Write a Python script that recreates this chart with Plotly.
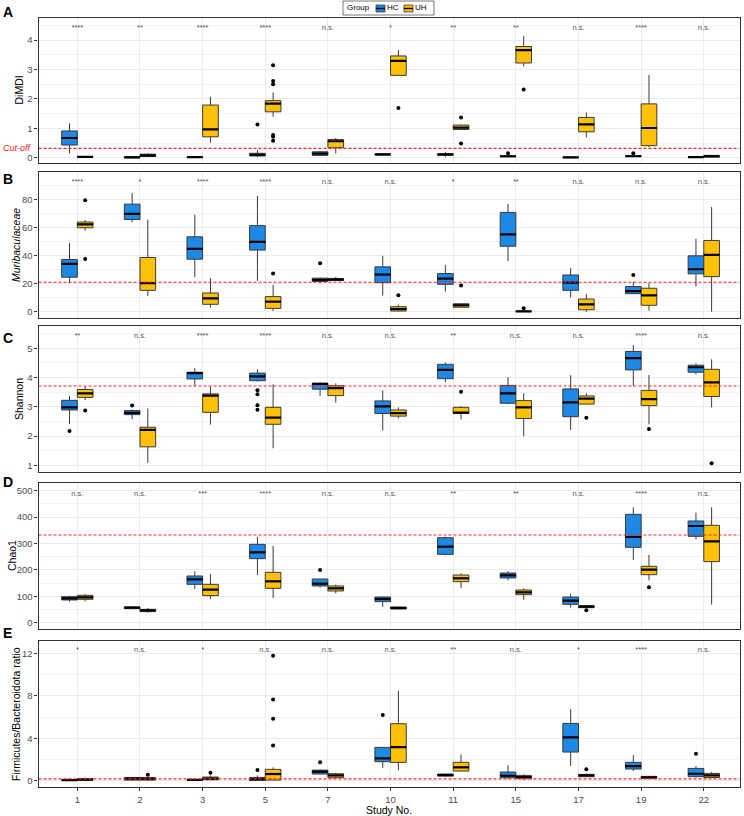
import plotly.graph_objects as go

W, H = 744, 816

studies = ["1", "2", "3", "5", "7", "10", "11", "15", "17", "19", "22"]
groups = ["HC", "UH"]
group_colors = {"HC": "#1E88E5", "UH": "#FFC107"}

# each row: [lower whisker, q1, median, q3, upper whisker] per study
A_HC = [[0.15, 0.43, 0.67, 0.91, 1.17], [0.0, 0.0, 0.01, 0.03, 0.06], [0.01, 0.01, 0.02, 0.03, 0.04],
        [0.02, 0.06, 0.10, 0.15, 0.26], [0.05, 0.08, 0.14, 0.20, 0.23], [0.07, 0.09, 0.11, 0.13, 0.14],
        [0.03, 0.08, 0.11, 0.13, 0.20], [0.02, 0.03, 0.05, 0.06, 0.08], [0.0, 0.0, 0.01, 0.02, 0.03],
        [0.02, 0.04, 0.05, 0.07, 0.09], [0.0, 0.01, 0.02, 0.03, 0.04]]
A_UH = [[0.01, 0.02, 0.03, 0.04, 0.05], [0.03, 0.04, 0.08, 0.12, 0.15], [0.51, 0.71, 0.96, 1.79, 2.07],
        [1.39, 1.56, 1.84, 1.94, 2.22], [0.15, 0.34, 0.56, 0.62, 0.67], [2.8, 2.8, 3.29, 3.46, 3.66],
        [0.95, 0.96, 1.02, 1.11, 1.13], [3.1, 3.22, 3.66, 3.78, 4.14], [0.69, 0.88, 1.13, 1.37, 1.54],
        [0.36, 0.41, 1.01, 1.83, 2.81], [0.01, 0.02, 0.05, 0.08, 0.09]]
A_HC_out = {"5": [1.13], "15": [0.15], "19": [0.15]}
A_UH_out = {"5": [3.14, 2.61, 2.5, 0.77, 0.71, 0.58], "10": [1.69], "11": [1.37, 0.48], "15": [2.32]}
A_sig = ["****", "**", "****", "****", "n.s.", "*", "**", "**", "n.s.", "****", "n.s."]

B_HC = [[20.4, 24.7, 34.2, 37.4, 49.3], [64, 66, 70, 77, 85], [24.7, 37.6, 45, 53.6, 69.5],
        [22, 44.1, 50, 61.6, 82.9], [20.1, 21.6, 22.8, 24, 24.5], [11.5, 20.8, 26.6, 32.1, 40],
        [14.4, 19.6, 23.7, 27.3, 33.5], [36.2, 46.9, 55.3, 71.1, 77.1], [10.1, 15.3, 20.8, 26.3, 31.1],
        [12.7, 12.9, 14.8, 18, 21.6], [18, 27.1, 30.4, 40, 52.2]]
B_UH = [[58, 60.1, 62.5, 64.2, 65.6], [11.3, 15.3, 20.4, 38.8, 65.9], [2.9, 5.3, 9.6, 13.4, 24],
        [0.5, 2.4, 7.2, 10.8, 19.2], [22, 22.3, 23, 23.8, 24.9], [0.3, 0.5, 1.9, 3.6, 5.0],
        [2.9, 3.2, 4.6, 5.7, 5.9], [0, 0.1, 0.2, 0.4, 0.6], [0, 1.4, 5.3, 9.1, 12.5],
        [0.7, 4.6, 11.7, 16.8, 20.4], [0, 25.1, 40.7, 51, 75]]
B_HC_out = {"7": [34.7], "19": [26.3]}
B_UH_out = {"1": [79.8, 37.8], "5": [27.3], "10": [11.7], "11": [18.7], "15": [2.4]}
B_sig = ["****", "*", "****", "****", "n.s.", "n.s.", "*", "**", "n.s.", "n.s.", "n.s."]

C_HC = [[2.41, 2.89, 2.98, 3.22, 3.37], [2.57, 2.73, 2.79, 2.87, 2.9], [3.71, 3.95, 4.15, 4.18, 4.32],
        [3.86, 3.89, 4.04, 4.15, 4.28], [3.37, 3.6, 3.78, 3.8, 3.84], [2.19, 2.77, 3.01, 3.2, 3.56],
        [3.84, 3.96, 4.26, 4.45, 4.51], [3.09, 3.12, 3.46, 3.73, 4.01], [2.21, 2.66, 3.15, 3.61, 4.08],
        [3.71, 4.26, 4.66, 4.89, 5.11], [4.11, 4.18, 4.35, 4.42, 4.48]]
C_UH = [[3.23, 3.32, 3.46, 3.59, 3.69], [1.09, 1.63, 2.21, 2.3, 2.94], [2.39, 2.81, 3.38, 3.44, 3.69],
        [1.58, 2.4, 2.63, 2.98, 3.77], [3.14, 3.38, 3.64, 3.72, 3.8], [2.6, 2.68, 2.78, 2.89, 2.98],
        [2.57, 2.77, 2.8, 2.98, 3.03], [1.99, 2.6, 2.98, 3.21, 3.46], [3.09, 3.09, 3.28, 3.37, 3.46],
        [2.4, 3.04, 3.26, 3.56, 4.09], [2.98, 3.35, 3.83, 4.28, 4.62]]
C_HC_out = {"1": [2.17], "2": [3.04], "5": [3.56, 3.43, 3.05, 2.9]}
C_UH_out = {"1": [2.87], "11": [3.51], "17": [2.62], "19": [2.24], "22": [1.07]}
C_sig = ["**", "n.s.", "****", "****", "n.s.", "n.s.", "**", "n.s.", "n.s.", "****", "n.s."]

D_HC = [[79.5, 85.9, 92.2, 98.5, 102], [52, 53, 56.8, 59.3, 61], [127.5, 145.2, 164.1, 176.8, 194.4],
        [180.5, 242.4, 266.4, 296.7, 324.5], [132.6, 138.9, 147.7, 165.4, 165.4], [59.3, 79.5, 89.6, 97.2, 99],
        [255, 258.8, 287.9, 322, 325.8], [160.3, 169.2, 179.3, 188.1, 195.7], [56.8, 69.4, 83.3, 97.2, 108.6],
        [237.4, 285.3, 324.5, 410.3, 436.9], [315.7, 327, 366.2, 385.1, 416.7]]
D_UH = [[80.8, 88.4, 96, 103.5, 108.6], [37.9, 41.7, 46.7, 50.5, 55.6], [89.6, 102.3, 125, 145.2, 184.3],
        [93.4, 130, 156.6, 190.7, 290.4], [111, 120, 130, 138.9, 144], [50, 51.8, 55.6, 59.3, 60],
        [131.3, 155.3, 168, 180.5, 186.9], [87.1, 106, 114.9, 123.7, 130], [55, 56.8, 60.6, 64.4, 65],
        [160.3, 181.8, 200.8, 213.4, 256.3], [68.2, 231.1, 308.1, 368.7, 436.9]]
D_HC_out = {"7": [199.5]}
D_UH_out = {"17": [46.7], "19": [133.8]}
D_sig = ["n.s.", "n.s.", "***", "****", "n.s.", "n.s.", "**", "**", "n.s.", "****", "n.s."]

E_HC = [[0.01, 0.03, 0.05, 0.08, 0.1], [0.04, 0.06, 0.2, 0.31, 0.35], [0.04, 0.06, 0.08, 0.11, 0.13],
        [0.03, 0.03, 0.16, 0.31, 0.5], [0.6, 0.63, 0.85, 1.0, 1.05], [1.19, 1.79, 2.1, 3.14, 3.14],
        [0.4, 0.44, 0.53, 0.63, 0.65], [0.19, 0.28, 0.47, 0.82, 1.45], [1.41, 2.7, 4.08, 5.4, 6.75],
        [0.91, 1.1, 1.38, 1.73, 2.42], [0.31, 0.38, 0.66, 1.16, 1.38]]
E_UH = [[0.03, 0.06, 0.1, 0.19, 0.31], [0.04, 0.06, 0.18, 0.31, 0.35], [0.06, 0.09, 0.2, 0.35, 0.5],
        [0.03, 0.06, 0.63, 1.07, 1.26], [0.25, 0.28, 0.5, 0.66, 0.75], [1.0, 1.73, 3.17, 5.37, 8.45],
        [0.85, 0.91, 1.26, 1.73, 2.48], [0.06, 0.19, 0.35, 0.5, 0.6], [0.35, 0.38, 0.5, 0.6, 0.65],
        [0.2, 0.22, 0.31, 0.41, 0.45], [0.28, 0.31, 0.5, 0.69, 0.82]]
E_HC_out = {"5": [1.0], "7": [1.73], "10": [6.19], "22": [2.54]}
E_UH_out = {"2": [0.57], "3": [0.75], "5": [3.33, 5.84, 7.66, 11.78], "17": [1.07]}
E_sig = ["*", "n.s.", "*", "n.s.", "n.s.", "n.s.", "**", "n.s.", "*", "****", "n.s."]

cutoffs = [0.32, 21.1, 3.71, 332, 0.17]
y_titles = ["DiMDI", "<i>Muribaculaceae</i>", "Shannon", "Chao1", "Firmicutes/Bacteroidota ratio"]
panel_letters = ["A", "B", "C", "D", "E"]

panels = [
    dict(HC=A_HC, UH=A_UH, HC_out=A_HC_out, UH_out=A_UH_out, sig=A_sig,
         yrange=[-0.18, 4.75], ticks=[0, 1, 2, 3, 4], minor=[0.5, 1.5, 2.5, 3.5, 4.5], sig_y=4.39,
         px=(18, 163), letter_y=12, title_x=19),
    dict(HC=B_HC, UH=B_UH, HC_out=B_HC_out, UH_out=B_UH_out, sig=B_sig,
         yrange=[-4.5, 100.0], ticks=[0, 20, 40, 60, 80], minor=[10, 30, 50, 70, 90], sig_y=92.8,
         px=(172, 318), letter_y=179, title_x=16),
    dict(HC=C_HC, UH=C_UH, HC_out=C_HC_out, UH_out=C_UH_out, sig=C_sig,
         yrange=[0.77, 5.76], ticks=[1, 2, 3, 4, 5], minor=[1.5, 2.5, 3.5, 4.5, 5.5], sig_y=5.42,
         px=(326, 472), letter_y=338, title_x=19),
    dict(HC=D_HC, UH=D_UH, HC_out=D_HC_out, UH_out=D_UH_out, sig=D_sig,
         yrange=[-24, 529], ticks=[0, 100, 200, 300, 400, 500], minor=[50, 150, 250, 350, 450], sig_y=487.5,
         px=(483, 629), letter_y=482, title_x=12),
    dict(HC=E_HC, UH=E_UH, HC_out=E_HC_out, UH_out=E_UH_out, sig=E_sig,
         yrange=[-0.59, 13.16], ticks=[0, 4, 8, 12], minor=[2, 6, 10], sig_y=12.3,
         px=(641, 787), letter_y=633, title_x=16),
]

FONT = "Liberation Sans, Arial, sans-serif"
dodge = {"HC": -0.125, "UH": 0.125}
box_w = 0.25
x_left, x_right = 38.5, 739.5

fig = go.Figure()
layout = dict(width=W, height=H, margin=dict(l=0, r=0, t=0, b=0),
              paper_bgcolor="white", plot_bgcolor="white", boxmode="overlay", showlegend=False,
              template="none", font=dict(family=FONT), annotations=[], shapes=[])

for k, p in enumerate(panels):
    n = k + 1
    xa = "x" if n == 1 else f"x{n}"
    ya = "y" if n == 1 else f"y{n}"
    for g in groups:
        stats = p[g]
        xs = [i + dodge[g] for i in range(len(studies))]
        fig.add_trace(go.Box(
            x=xs, lowerfence=[s[0] for s in stats], q1=[s[1] for s in stats],
            median=[s[2] for s in stats], q3=[s[3] for s in stats],
            upperfence=[s[4] for s in stats], width=box_w, whiskerwidth=0,
            fillcolor=group_colors[g], line=dict(color="#3a3a3a", width=1),
            boxpoints=False, name=g, legendgroup=g,
            xaxis=xa, yaxis=ya, hoverinfo="skip"))
        # thicker median lines
        mx, my = [], []
        for i, s in enumerate(stats):
            mx += [i + dodge[g] - box_w / 2, i + dodge[g] + box_w / 2, None]
            my += [s[2], s[2], None]
        fig.add_trace(go.Scatter(x=mx, y=my, mode="lines", line=dict(color="black", width=2.2),
                                 xaxis=xa, yaxis=ya, hoverinfo="skip"))
        # outliers
        ox, oy = [], []
        for st, vals in p[g + "_out"].items():
            i = studies.index(st)
            for v in vals:
                ox.append(i + dodge[g])
                oy.append(v)
        fig.add_trace(go.Scatter(x=ox, y=oy, mode="markers", marker=dict(color="black", size=4),
                                 xaxis=xa, yaxis=ya, hoverinfo="skip"))
    # cut-off line
    fig.add_trace(go.Scatter(x=[-0.62, 10.57], y=[cutoffs[k]] * 2, mode="lines",
                             line=dict(color="#FF2020", width=1.2, dash="3px,2px"),
                             xaxis=xa, yaxis=ya, hoverinfo="skip"))
    # significance labels
    fig.add_trace(go.Scatter(x=list(range(len(studies))), y=[p["sig_y"]] * len(studies), text=p["sig"],
                             mode="text", textfont=dict(size=7.5, color="#555555", family=FONT),
                             xaxis=xa, yaxis=ya, hoverinfo="skip"))

    top, bot = p["px"]
    last = (n == len(panels))
    layout["xaxis" if n == 1 else f"xaxis{n}"] = dict(
        domain=[x_left / W, x_right / W], range=[-0.62, 10.57], anchor=ya,
        tickvals=list(range(len(studies))), ticktext=studies,
        showticklabels=last, ticks="outside" if last else "", ticklen=3, tickcolor="#333333",
        tickfont=dict(size=9.5, color="#4D4D4D", family=FONT),
        showgrid=True, gridcolor="#EBEBEB", gridwidth=1, zeroline=False,
        showline=True, mirror=True, linecolor="#333333", linewidth=1.2)
    layout["yaxis" if n == 1 else f"yaxis{n}"] = dict(
        domain=[1 - bot / H, 1 - top / H], range=p["yrange"], anchor=xa,
        tickvals=p["ticks"], ticks="outside", ticklen=3, tickcolor="#333333",
        tickfont=dict(size=9.5, color="#4D4D4D", family=FONT),
        showgrid=True, gridcolor="#EBEBEB", gridwidth=1, zeroline=False,
        minor=dict(tickvals=p["minor"], showgrid=True, gridcolor="#F4F4F4", gridwidth=0.6, ticks=""),
        showline=True, mirror=True, linecolor="#333333", linewidth=1.2)
    # y title
    layout["annotations"].append(dict(
        text=y_titles[k], xref="paper", yref="paper", x=p["title_x"] / W,
        y=1 - (top + bot) / 2 / H,
        textangle=-90, showarrow=False, font=dict(size=10.5, color="black", family=FONT),
        xanchor="center", yanchor="middle"))
    # panel letter
    layout["annotations"].append(dict(
        text=f"<b>{panel_letters[k]}</b>", xref="paper", yref="paper", x=1 / W, y=1 - p["letter_y"] / H,
        showarrow=False, font=dict(size=14, color="black", family=FONT), xanchor="left", yanchor="middle"))

# cut-off label in panel A
layout["annotations"].append(dict(
    text="<i>Cut-off</i>", xref="paper", yref="y", x=34 / W, y=cutoffs[0], showarrow=False,
    font=dict(size=9, color="#FF2020", family=FONT), xanchor="right", yanchor="middle"))
# x title
layout["annotations"].append(dict(
    text="Study No.", xref="paper", yref="paper", x=(x_left + x_right) / 2 / W, y=1 - 810 / H,
    showarrow=False, font=dict(size=10.5, color="black", family=FONT), xanchor="center", yanchor="middle"))

# compact legend (Group: HC / UH) drawn at the top centre
def px_x(v):
    return v / W

def px_y(v):
    return 1 - v / H

layout["shapes"].append(dict(type="rect", xref="paper", yref="paper",
                             x0=px_x(343), x1=px_x(434), y0=px_y(15), y1=px_y(1),
                             line=dict(color="#555555", width=0.8), fillcolor="white"))
layout["annotations"].append(dict(text="Group", xref="paper", yref="paper", x=px_x(345), y=px_y(8),
                                  showarrow=False, xanchor="left", yanchor="middle",
                                  font=dict(size=8, color="black", family=FONT)))
key_x = {"HC": 376, "UH": 404}
for g in groups:
    x0 = key_x[g]
    layout["shapes"].append(dict(type="rect", xref="paper", yref="paper",
                                 x0=px_x(x0), x1=px_x(x0 + 9), y0=px_y(12), y1=px_y(5),
                                 line=dict(color="#3a3a3a", width=0.8), fillcolor=group_colors[g]))
    layout["shapes"].append(dict(type="line", xref="paper", yref="paper",
                                 x0=px_x(x0), x1=px_x(x0 + 9), y0=px_y(8.5), y1=px_y(8.5),
                                 line=dict(color="black", width=1.4)))
    layout["annotations"].append(dict(text=g, xref="paper", yref="paper", x=px_x(x0 + 9), y=px_y(8),
                                      showarrow=False, xanchor="left", yanchor="middle",
                                      font=dict(size=8, color="black", family=FONT)))

fig.update_layout(**layout)
fig.write_html("out.html", config={"displayModeBar": False},
               post_script="document.body.style.margin='0';document.body.style.padding='0';")
